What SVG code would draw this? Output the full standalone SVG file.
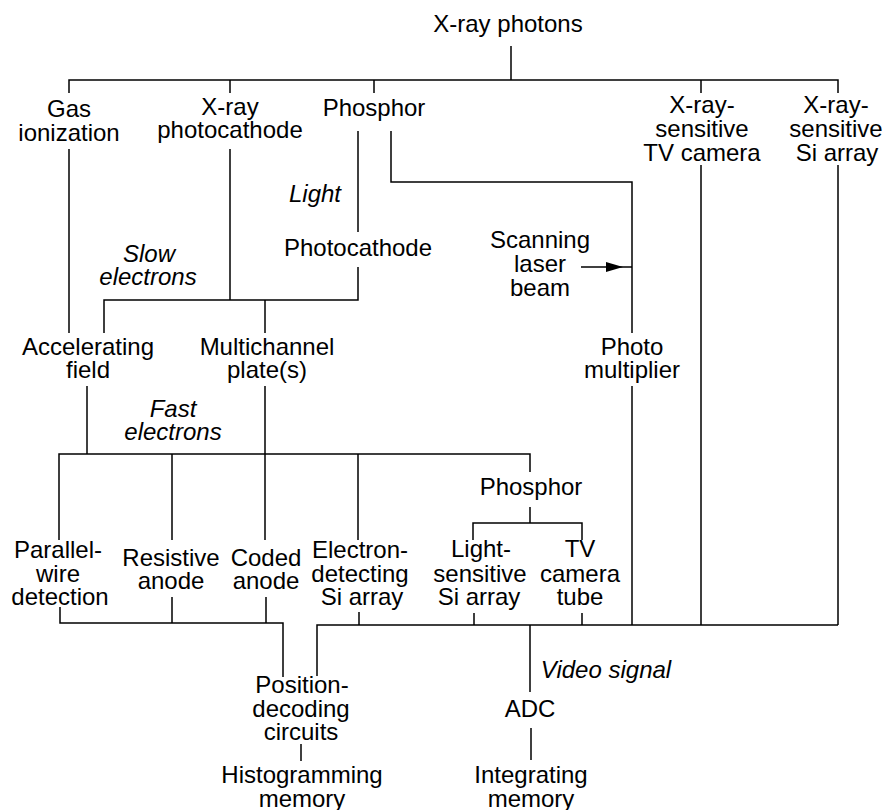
<svg xmlns="http://www.w3.org/2000/svg" width="885" height="810" viewBox="0 0 885 810">
<style>
  text { font-family: "Liberation Sans", Arial, Helvetica, sans-serif; font-size: 24px; fill: #000; text-anchor: middle; }
  .it { font-style: italic; }
  .ln { fill: none; stroke: #000; stroke-width: 1.5; }
</style>
<defs>
  <marker id="arr" markerUnits="userSpaceOnUse" markerWidth="30" markerHeight="12" refX="26" refY="5" orient="auto">
    <path d="M0,0 L17,5 L0,10 z" fill="#000"/>
  </marker>
</defs>
<rect width="885" height="810" fill="#fff"/>
<g id="connectors" class="ln">
  <path d="M511,46 V80"/>
  <path d="M69,93 V80 H838 V93"/>
  <path d="M230,80 V93 M374,80 V93 M701,80 V93"/>
  <path d="M69,149 V333"/>
  <path d="M230,149 V300"/>
  <path d="M358,131 V232"/>
  <path d="M391,131 V182 H632 V333"/>
  <path d="M358,267 V300 H104 V333"/>
  <path d="M265,300 V333"/>
  <path d="M87,386 V454"/>
  <path d="M59,540 V454 H530 V472"/>
  <path d="M172,454 V540 M265,386 V540 M358,454 V540"/>
  <path d="M530,507 V523"/>
  <path d="M473,540 V523 H582 V540"/>
  <path d="M632,386 V625"/>
  <path d="M701,165 V625 M838,165 V625"/>
  <path d="M60,607 V623 H283 V677"/>
  <path d="M172,597 V623 M266,597 V623"/>
  <path d="M317,676 V625 H838"/>
  <path d="M359,612 V625 M474,613 V625 M582,613 V625"/>
  <path d="M530,625 V692"/>
  <path d="M531,728 V760"/>
  <path d="M301,744 V761"/>
  <path d="M581,267 H632" marker-end="url(#arr)"/>
</g>
<g id="xray-photons"><text x="508" y="32">X-ray photons</text></g>
<g id="gas-ionization"><text x="69" y="117">Gas</text><text x="69" y="141">ionization</text></g>
<g id="xray-photocathode"><text x="230" y="115">X-ray</text><text x="230" y="138">photocathode</text></g>
<g id="phosphor-top"><text x="374" y="116">Phosphor</text></g>
<g id="tv-camera"><text x="702" y="113">X-ray-</text><text x="702" y="137">sensitive</text><text x="702" y="161">TV camera</text></g>
<g id="si-array-top"><text x="836" y="113">X-ray-</text><text x="836" y="137">sensitive</text><text x="837" y="161">Si array</text></g>
<g id="label-light"><text class="it" x="315" y="202">Light</text></g>
<g id="photocathode"><text x="358" y="256">Photocathode</text></g>
<g id="label-slow"><text class="it" x="149" y="262">Slow</text><text class="it" x="148" y="285">electrons</text></g>
<g id="scanning-laser"><text x="540" y="248">Scanning</text><text x="540" y="272">laser</text><text x="540" y="296">beam</text></g>
<g id="accelerating-field"><text x="88" y="355">Accelerating</text><text x="88" y="378">field</text></g>
<g id="multichannel"><text x="267" y="355">Multichannel</text><text x="267" y="378">plate(s)</text></g>
<g id="photomultiplier"><text x="632" y="355">Photo</text><text x="632" y="378">multiplier</text></g>
<g id="label-fast"><text class="it" x="173" y="417">Fast</text><text class="it" x="173" y="440">electrons</text></g>
<g id="phosphor-low"><text x="531" y="495">Phosphor</text></g>
<g id="parallel-wire"><text x="58" y="558">Parallel-</text><text x="58" y="582">wire</text><text x="60" y="605">detection</text></g>
<g id="resistive-anode"><text x="171" y="566">Resistive</text><text x="171" y="589">anode</text></g>
<g id="coded-anode"><text x="266" y="566">Coded</text><text x="266" y="589">anode</text></g>
<g id="electron-si"><text x="360" y="558">Electron-</text><text x="360" y="582">detecting</text><text x="362" y="605">Si array</text></g>
<g id="light-si"><text x="481" y="557">Light-</text><text x="480" y="582">sensitive</text><text x="479" y="605">Si array</text></g>
<g id="tv-tube"><text x="580" y="557">TV</text><text x="580" y="582">camera</text><text x="580" y="605">tube</text></g>
<g id="label-video"><text class="it" x="606" y="678">Video signal</text></g>
<g id="position-decoding"><text x="302" y="693">Position-</text><text x="301" y="717">decoding</text><text x="301" y="740">circuits</text></g>
<g id="adc"><text x="530" y="717">ADC</text></g>
<g id="histogramming"><text x="302" y="783">Histogramming</text><text x="302" y="807">memory</text></g>
<g id="integrating"><text x="531" y="783">Integrating</text><text x="531" y="807">memory</text></g>
</svg>
